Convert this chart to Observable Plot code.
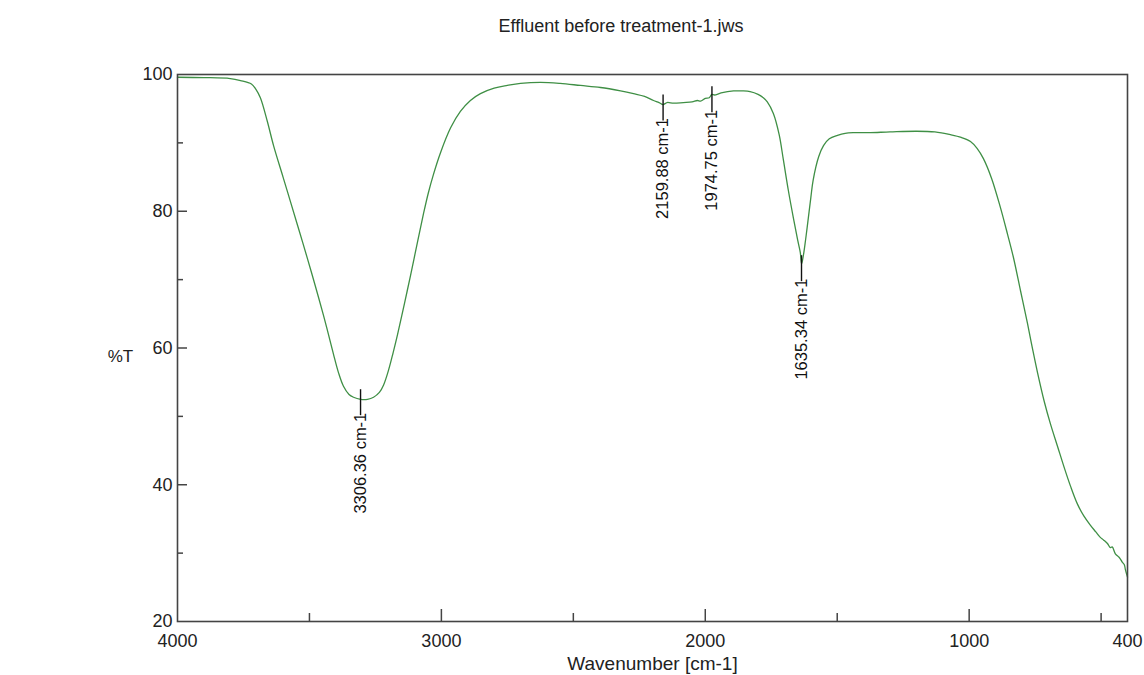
<!DOCTYPE html>
<html><head><meta charset="utf-8">
<script src="https://cdn.jsdelivr.net/npm/d3@7"></script>
<script src="https://cdn.jsdelivr.net/npm/@observablehq/plot@0.6"></script>
<style>
body{margin:0;background:#fff;font-family:"Liberation Sans",Arial,sans-serif;}
#wrap{position:relative;width:1144px;height:675px;}
#title{position:absolute;top:16px;left:0;width:1242px;text-align:center;font-size:18px;color:#222;}
#chart{position:absolute;top:0;left:0;}
</style></head><body>
<div id="wrap"><div id="title">Effluent before treatment-1.jws</div><div id="chart"></div></div>
<script>
const titleText = "Effluent before treatment-1.jws";
const xLabel = "Wavenumber [cm-1]";
const yLabel = "%T";
const xMajorTicks = [4000, 3000, 2000, 1000, 400];
const xInnerMajor = [3000, 2000, 1000];
const xMinorTicks = [3500, 2500, 1500, 500];
const yMajorTicks = [20, 40, 60, 80, 100];
const yMinorTicks = [30, 50, 70, 90];

const wavenumber = [4000,3900,3800,3761,3720,3704,3686,3660,3636,3600,3572,3540,3507,3478,3447,3428,3409,3390,3371,3350,3333,3306,3280,3257,3235,3219,3200,3183,3166,3140,3117,3090,3068,3050,3030,3003,2965,2928,2890,2852,2800,2750,2700,2624,2550,2473,2397,2321,2272,2230,2196,2175,2160,2145,2120,2083,2050,2030,2018,2000,1985,1975,1965,1940,1893,1860,1830,1800,1780,1765,1742,1720,1704,1685,1666,1650,1640,1635,1628,1620,1614,1600,1591,1570,1552,1530,1499,1470,1439,1400,1374,1300,1200,1130,1071,1030,995,970,946,915,882,855,832,805,779,760,741,715,692,665,643,616,590,565,541,520,503,490,476,465,458,446,432,420,412,408,400];
const transmittance = [99.6,99.55,99.4,99.1,98.6,97.9,96.6,93.2,89.6,85.0,81.4,77.3,73.0,69.1,64.8,62.0,59.1,56.4,54.4,53.2,52.8,52.5,52.5,52.8,53.5,54.6,56.8,59.3,62.0,66.5,70.6,75.6,79.6,82.6,85.4,88.6,92.2,94.6,96.2,97.2,98,98.4,98.7,98.85,98.7,98.4,98.1,97.6,97.2,96.8,96.2,95.9,95.6,95.9,95.8,95.9,96.0,96.2,96.1,96.5,96.6,97.1,97.0,97.3,97.6,97.6,97.5,97.1,96.6,96.0,94.3,91.2,87.5,83.0,79.0,75.8,74.0,72.3,73.6,75.8,77.6,82.0,84.6,88.0,89.6,90.6,91.1,91.4,91.5,91.5,91.5,91.6,91.7,91.6,91.2,90.8,90.2,89.2,87.7,84.8,80.6,76.7,73.2,68.3,63.6,59.9,56.4,52.1,48.9,45.6,42.9,39.8,37.2,35.4,34.1,33.1,32.3,31.9,31.4,30.8,30.9,29.9,29.4,28.7,28.3,27.6,26.5];

const peakWavenumbers = [3306.36, 2159.88, 1974.75, 1635.34];
const peakValues = [52.6, 95.7, 96.9, 72.2];
const peakLabels = ["3306.36 cm-1", "2159.88 cm-1", "1974.75 cm-1", "1635.34 cm-1"];
const peaks = peakWavenumbers.map((w, i) => ({w, t: peakValues[i], label: peakLabels[i]}));

const chart = Plot.plot({
  width: 1144, height: 675,
  marginLeft: 177, marginRight: 17, marginTop: 74, marginBottom: 54,
  x: {domain: [4000, 400]},
  y: {domain: [20, 100]},
  style: {fontFamily: "Liberation Sans, Arial, sans-serif", color: "#222", background: "transparent"},
  marks: [
    Plot.line(transmittance, {x: wavenumber, y: transmittance, stroke: "#3f8f45", strokeWidth: 1.3, curve: "catmull-rom"}),
    Plot.ruleX(xInnerMajor, {x: d => d, y1: 20, y2: 20 + 12 / 6.84, stroke: "#444", strokeWidth: 1.5}),
    Plot.ruleX(xMinorTicks, {x: d => d, y1: 20, y2: 20 + 8 / 6.84, stroke: "#444", strokeWidth: 1.5}),
    Plot.ruleY(yMajorTicks.slice(1, 4), {y: d => d, x1: 4000, x2: 4000 - 10 * 3.79, stroke: "#444", strokeWidth: 1.5}),
    Plot.ruleY(yMinorTicks, {y: d => d, x1: 4000, x2: 4000 - 6 * 3.79, stroke: "#444", strokeWidth: 1.5}),
    Plot.frame({stroke: "#444", strokeWidth: 1.6}),
    Plot.axisX(xMajorTicks, {tickSize: 0, tickPadding: 13, fontSize: 18, label: null, tickFormat: d => String(d)}),
    Plot.axisY(yMajorTicks, {tickSize: 0, tickPadding: 5, fontSize: 18, label: null}),
    Plot.text([xLabel], {frameAnchor: "bottom", dy: 48, fontSize: 19, text: d => d}),
    Plot.text([yLabel], {frameAnchor: "left", textAnchor: "middle", dx: -57, dy: 9, fontSize: 17, text: d => d}),
    Plot.ruleX(peaks, {x: "w", y1: d => d.t + 1.3, y2: d => d.t - 2.5, stroke: "#111", strokeWidth: 1.4}),
    Plot.text(peaks, {x: "w", y: d => d.t - 2.5, text: "label", rotate: -90, textAnchor: "end", dy: -3, fontSize: 16.5, fill: "#111"})
  ]
});
document.getElementById("chart").appendChild(chart);
</script>
</body></html>
